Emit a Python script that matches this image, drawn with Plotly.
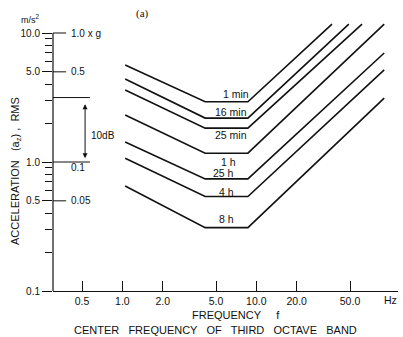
import math
import plotly.graph_objects as go

# ---- data ----
series_names = ["1 min", "16 min", "25 min", "1 h", "25 h", "4 h", "8 h"]
series_freq = [
    [1.05, 4.15, 8.65, 36.7],
    [1.05, 4.15, 8.65, 49.0],
    [1.05, 4.15, 8.65, 61.5],
    [1.05, 4.15, 8.65, 90.0],
    [1.05, 4.15, 8.65, 90.0],
    [1.05, 4.15, 8.65, 90.0],
    [1.05, 4.15, 8.65, 90.0],
]
series_acc = [
    [5.65, 2.93, 2.93, 11.7],
    [4.40, 2.19, 2.19, 11.7],
    [3.61, 1.83, 1.83, 11.7],
    [2.31, 1.17, 1.17, 11.7],
    [1.43, 0.74, 0.74, 7.0],
    [1.07, 0.54, 0.54, 5.17],
    [0.652, 0.31, 0.31, 3.13],
]
label_freq = [7.03, 6.51, 6.51, 6.18, 5.68, 5.97, 5.97]
label_acc = [3.37, 2.44, 1.62, 1.00, 0.822, 0.585, 0.361]

x_ticks = [0.5, 1, 2, 5, 10, 20, 50]
x_ticktext = ["0.5", "1.0", "2.0", "5.0", "10.0", "20.0", "50.0"]
y_ticks = [0.1, 0.5, 1, 5, 10]
y_ticktext = ["0.1", "0.5", "1.0", "5.0", "10.0"]
y_minor = [0.2, 0.3, 0.4, 0.6, 0.7, 0.8, 0.9, 2, 3, 4, 6, 7, 8, 9]
g_vals = [10, 5, 1, 0.5]
g_text = ["1.0 x g", "0.5", "0.1", "0.05"]

FONT = "Liberation Sans, Arial, sans-serif"
INK = "#111"
fig = go.Figure()
for name, fx, ay in zip(series_names, series_freq, series_acc):
    fig.add_trace(go.Scatter(x=fx, y=ay, mode="lines", name=name,
                             line=dict(color=INK, width=1.6),
                             showlegend=False, hoverinfo="skip", cliponaxis=False))

annotations = []
for name, lf, la in zip(series_names, label_freq, label_acc):
    annotations.append(dict(x=math.log10(lf), y=math.log10(la), xref="x", yref="y",
                            text=name, showarrow=False, xanchor="center", yanchor="middle",
                            font=dict(size=10.5, color=INK)))

# g-scale labels on the right of the y axis
g_y_offset = [0, 0, -0.04, 0]
for gv, gt, off in zip(g_vals, g_text, g_y_offset):
    annotations.append(dict(x=0.046, xref="paper", y=math.log10(gv) + off, yref="y",
                            text=gt, showarrow=False, xanchor="left", yanchor="middle",
                            font=dict(size=10, color=INK)))

# 10 dB arrow and label
annotations.append(dict(x=0.093, xref="paper", y=0.03, yref="y",
                        ax=0, ay=0.46, ayref="y", text="",
                        showarrow=True, arrowhead=2, arrowside="end+start",
                        arrowsize=1, arrowwidth=1, arrowcolor=INK))
annotations.append(dict(x=0.104, xref="paper", y=0.209, yref="y", text="10dB",
                        showarrow=False, xanchor="left", yanchor="middle",
                        font=dict(size=10, color=INK)))


def ptext(x, y, text, size=10, **kw):
    d = dict(x=x, y=y, xref="paper", yref="paper", text=text, showarrow=False,
             xanchor="center", yanchor="middle", font=dict(size=size, color=INK))
    d.update(kw)
    return d


annotations += [
    ptext(0.977, -0.033, "Hz", size=10.5),
    ptext(0.530, -0.087, "FREQUENCY     f", size=11),
    ptext(0.471, -0.141, "CENTER   FREQUENCY   OF   THIRD   OCTAVE   BAND", size=11),
    ptext(-0.107, 0.435, "ACCELERATION   (a<sub>z</sub>) ,  RMS", size=11, textangle=-90),
    ptext(-0.064, 0.985, "m/s<sup>2</sup>", size=9),
    ptext(0.258, 1.004, "(a)", font=dict(size=11, color=INK,
                                         family="Liberation Serif, Times New Roman, serif")),
]

shapes = [
    # y axis line from 0.1 to 10
    dict(type="line", xref="paper", x0=0, x1=0, yref="y", y0=0.1, y1=10,
         line=dict(color=INK, width=1.2)),
    # 10 dB reference lines
    dict(type="line", xref="paper", x0=0, x1=0.107, yref="y", y0=3.16, y1=3.16,
         line=dict(color=INK, width=1)),
    dict(type="line", xref="paper", x0=0, x1=0.107, yref="y", y0=1, y1=1,
         line=dict(color=INK, width=1)),
]
for gv in [10, 5, 0.5]:
    shapes.append(dict(type="line", xref="paper", x0=0, x1=0.038, yref="y", y0=gv, y1=gv,
                       line=dict(color=INK, width=1)))

xmin = math.log10(0.5) - 29 / 134
xmax = math.log10(50) + 48 / 134
ymin = -1
ymax = -1 + 276 / 129

fig.update_layout(
    width=403, height=337,
    margin=dict(l=53, r=5, t=15, b=46),
    paper_bgcolor="white", plot_bgcolor="white",
    font=dict(family=FONT, size=10, color=INK),
    annotations=annotations, shapes=shapes,
    xaxis=dict(type="log", range=[xmin, xmax], showgrid=False, zeroline=False,
               showline=True, linecolor=INK, linewidth=1.2,
               ticks="inside", ticklen=10, tickcolor=INK, tickwidth=1,
               tickmode="array", tickvals=x_ticks, ticktext=x_ticktext,
               tickfont=dict(size=10.5)),
    yaxis=dict(type="log", range=[ymin, ymax], showgrid=False, zeroline=False,
               showline=False, ticks="outside", ticklen=10, tickcolor=INK, tickwidth=1,
               tickmode="array", tickvals=y_ticks, ticktext=y_ticktext,
               tickfont=dict(size=10),
               minor=dict(ticks="outside", ticklen=7, tickcolor=INK, tickwidth=1,
                          tickmode="array", tickvals=y_minor, showgrid=False)),
)

fig.write_html("out.html")
